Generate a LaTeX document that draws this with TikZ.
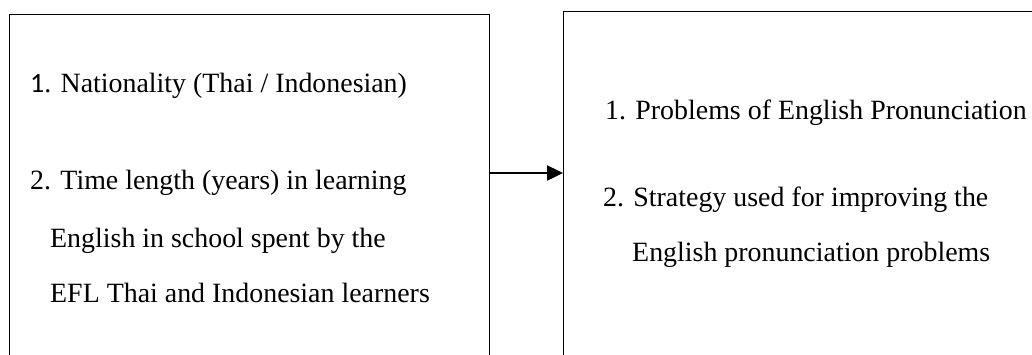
\documentclass[tikz,border=0pt]{standalone}
\usepackage{fontspec}
\setmainfont{Liberation Serif}
\newfontfamily\numfont{Carlito}
\usetikzlibrary{arrows.meta}
\tikzset{
  box/.style={draw=black, line width=1pt, minimum width=480pt, minimum height=420pt, anchor=north west, inner sep=0pt},
  txt/.style={anchor=base west, inner sep=0pt, font=\fontsize{27.9}{32}\selectfont},
  link/.style={line width=2.4pt, -{Triangle[length=16pt,width=15pt]}}
}
\begin{document}
\begin{tikzpicture}[x=1pt,y=-1pt]
\useasboundingbox (0,0) rectangle (1032,354);
\clip (0,0) rectangle (1032,354);
\node[box] (L) at (9,14) {};
\node[box] (R) at (563,11) {};
\coordinate (ay) at (0,173);
\draw[link] (L.east |- ay) -- (R.west |- ay);
\node[txt] (l1) at (30,92) {{\numfont 1}. Nationality (Thai / Indonesian)};
\node[txt] (l2) at (30,189) {2. Time length (years) in learning};
\node[txt] (l3) at (50,247) {English in school spent by the};
\node[txt] (l4) at (50,302) {EFL Thai and Indonesian learners};
\node[txt] (r1) at (605,119) {1. Problems of English Pronunciation};
\node[txt] (r2) at (603,206) {2. Strategy used for improving the};
\node[txt] (r3) at (632,261) {English pronunciation problems};
\end{tikzpicture}
\end{document}
